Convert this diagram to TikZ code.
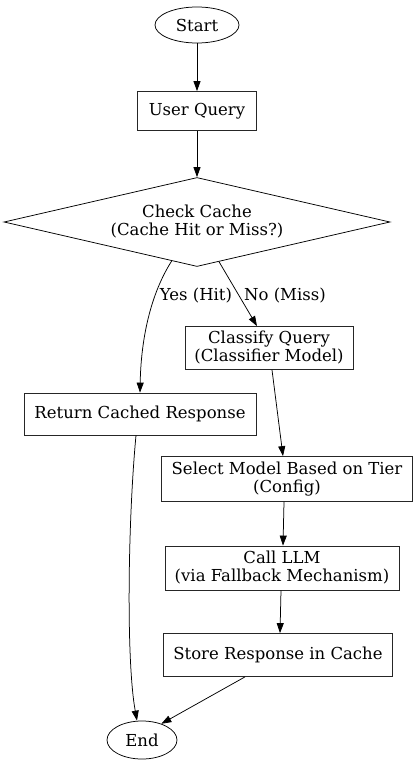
\documentclass[tikz,border=0pt]{standalone}
\usepackage{fontspec}
\setmainfont{DejaVu Serif}
\usepackage{tikz}
\usetikzlibrary{
    arrows.meta,
    shapes.geometric,
    positioning,
    calc
}
\tikzstyle{terminal} = [
    ellipse,
    draw=black,
    inner sep=0pt,
    font=\fontsize{16.5}{18}\selectfont
]
\tikzstyle{process} = [
    rectangle,
    draw=black!85,
    inner sep=0pt,
    align=center,
    font=\fontsize{16.5}{18}\selectfont
]
\tikzstyle{decision} = [
    diamond,
    aspect=4.34,
    draw=black,
    inner sep=0pt,
    align=center,
    font=\fontsize{16.5}{18}\selectfont
]
\tikzstyle{flow} = [
    -{Triangle[length=10pt,width=7pt]},
    line width=0.75pt,
    draw=black
]
\tikzstyle{edgelabel} = [
    font=\fontsize{16.5}{18}\selectfont
]

\begin{document}
\begin{tikzpicture}[x=1pt, y=-1pt, line width=0.75pt]
    \useasboundingbox (0,0) rectangle (417,768);

    % Entry
    \node[terminal, minimum width=84pt, minimum height=36pt] (start) at (197, 25) {Start};
    \node[process, minimum width=119pt, minimum height=39pt] (query) at (197, 111) {User Query};

    % Cache check
    \node[decision, minimum width=386pt, minimum height=89pt] (check) at (197, 222) {Check Cache\\(Cache Hit or Miss?)};

    % Hit branch
    \node[process, minimum width=232pt, minimum height=42pt] (cached) at (140, 414) {Return Cached Response};

    % Miss branch
    \node[process, minimum width=168pt, minimum height=43pt] (classify) at (269, 348) {Classify Query\\(Classifier Model)};
    \node[process, minimum width=251pt, minimum height=45pt] (select) at (287, 479) {Select Model Based on Tier\\(Config)};
    \node[process, minimum width=234pt, minimum height=44pt] (callllm) at (282, 568) {Call LLM\\(via Fallback Mechanism)};
    \node[process, minimum width=229pt, minimum height=43pt] (store) at (278, 655) {Store Response in Cache};

    % Exit
    \node[terminal, minimum width=70pt, minimum height=38pt] (finish) at (142, 740) {End};

    % Arrows
    \draw[flow] (start) -- (query);
    \draw[flow] (query) -- (check);
    \draw[flow] (check.237) .. controls (150, 295) and (141, 340) .. (cached.north);
    \draw[flow] (check.299) -- (classify.north -| 257, 0);
    \draw[flow] (classify.south -| 272, 0) -- (select.north -| 283, 0);
    \draw[flow] (select.south -| 284, 0) -- (callllm.north -| 283, 0);
    \draw[flow] (callllm.south -| 281, 0) -- (store.north -| 280, 0);
    \draw[flow] (store.south -| 245, 0) -- (finish.40);
    \draw[flow] (cached.south -| 136, 0) .. controls (128, 520) and (126, 660) .. (finish.north -| 137, 0);

    % Labels
    \node[edgelabel] (yeslbl) at (196, 296) {Yes (Hit)};
    \node[edgelabel] (nolbl) at (285, 296) {No (Miss)};
\end{tikzpicture}
\end{document}
